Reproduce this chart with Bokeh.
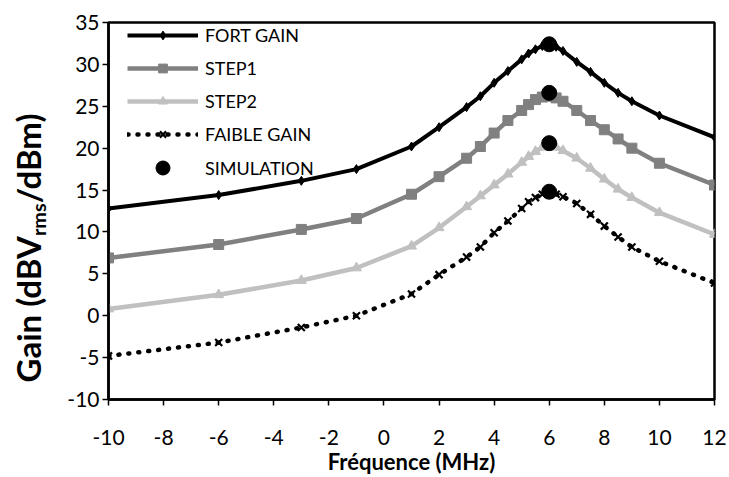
from bokeh.plotting import figure
from bokeh.models import Legend, LegendItem, FixedTicker, Range1d, Div
from bokeh.layouts import row
from bokeh.embed import file_html
from bokeh.resources import INLINE

# ---- data ----
freq = [-10, -6, -3, -1, 1, 2, 3, 3.5, 4, 4.5, 5, 5.25, 5.5, 5.75, 6, 6.25, 6.5, 7, 7.5, 8, 8.5, 9, 10, 12]
fort_gain = [12.8, 14.4, 16.1, 17.5, 20.2, 22.5, 24.9, 26.2, 27.8, 29.2, 30.6, 31.3, 31.8, 32.2, 32.3, 32.1, 31.6, 30.3, 29.1, 27.8, 26.6, 25.6, 23.9, 21.3]
step1 = [6.9, 8.5, 10.3, 11.6, 14.5, 16.6, 18.8, 20.2, 21.8, 23.3, 24.5, 25.2, 25.8, 26.1, 26.2, 26.0, 25.6, 24.5, 23.3, 22.2, 21.1, 20.0, 18.2, 15.6]
step2 = [0.8, 2.5, 4.2, 5.7, 8.3, 10.5, 13.0, 14.3, 15.6, 16.9, 18.3, 19.0, 19.6, 20.1, 20.3, 20.1, 19.7, 18.8, 17.6, 16.3, 15.1, 14.1, 12.3, 9.7]
faible_gain = [-4.8, -3.2, -1.4, 0.0, 2.6, 4.9, 7.0, 8.2, 9.9, 11.3, 12.8, 13.6, 14.1, 14.5, 14.7, 14.5, 14.2, 13.4, 12.1, 10.7, 9.4, 8.2, 6.5, 3.9]
sim_freq = [6, 6, 6, 6]
sim_gain = [32.4, 26.6, 20.6, 14.8]
x_ticks = [-10, -8, -6, -4, -2, 0, 2, 4, 6, 8, 10, 12]
y_ticks = [-10, -5, 0, 5, 10, 15, 20, 25, 30, 35]
series_labels = ["FORT GAIN", "STEP1", "STEP2", "FAIBLE GAIN", "SIMULATION"]
x_title = "Fréquence (MHz)"
y_title_html = 'Gain (dBV<sub style="font-size:0.6em; vertical-align:-0.25em;">rms</sub>/dBm)'

FONT = "Lato"
DIV_W = 60

p = figure(width=729 - DIV_W, height=477, output_backend="svg", toolbar_location=None,
           x_range=Range1d(-10, 12), y_range=Range1d(-10, 35),
           min_border_left=108 - DIV_W, min_border_right=15, min_border_top=22, min_border_bottom=77,
           margin=0)
p.xgrid.visible = False
p.ygrid.visible = False
p.outline_line_color = "black"
p.outline_line_width = 2.5
p.background_fill_color = "white"
p.border_fill_color = "white"

for ax in (p.xaxis[0], p.yaxis[0]):
    ax.axis_line_color = "black"
    ax.axis_line_width = 2.5
    ax.major_tick_line_color = "black"
    ax.major_tick_line_width = 1.5
    ax.major_tick_out = 6
    ax.major_tick_in = 0
    ax.minor_tick_line_color = None
    ax.major_label_text_font = FONT
    ax.major_label_text_font_size = "21px"
    ax.major_label_text_color = "black"

p.xaxis.ticker = FixedTicker(ticks=x_ticks)
p.yaxis.ticker = FixedTicker(ticks=y_ticks)
p.xaxis.major_label_overrides = {t: str(t) for t in x_ticks}
p.yaxis.major_label_overrides = {t: str(t) for t in y_ticks}
p.xaxis.major_label_standoff = 24
p.yaxis.major_label_standoff = 3
p.xaxis.axis_label = x_title
p.xaxis.axis_label_text_font = FONT
p.xaxis.axis_label_text_font_style = "bold"
p.xaxis.axis_label_text_font_size = "22px"
p.xaxis.axis_label_text_color = "black"
p.xaxis.axis_label_standoff = 0

# ---- series ----
r_fort_l = p.line(freq, fort_gain, line_color="black", line_width=4)
r_fort_m = p.scatter(freq, fort_gain, marker="diamond", size=9, fill_color="black", line_color="black")
r_s1_l = p.line(freq, step1, line_color="#808080", line_width=4.5)
r_s1_m = p.scatter(freq, step1, marker="square", size=10, fill_color="#808080", line_color="#808080")
r_s2_l = p.line(freq, step2, line_color="#C0C0C0", line_width=4.5)
r_s2_m = p.scatter(freq, step2, marker="triangle", size=10, fill_color="#C0C0C0", line_color="#C0C0C0")
r_fa_l = p.line(freq, faible_gain, line_color="black", line_width=4.5, line_dash="1 9", line_cap="round")
r_fa_m = p.scatter(freq, faible_gain, marker="x", size=10, line_color="black", line_width=2.2)
r_sim = p.scatter(sim_freq, sim_gain, marker="circle", size=15, fill_color="black", line_color="black")


def style_legend(lg, gh):
    lg.border_line_alpha = 0
    lg.background_fill_alpha = 0
    lg.padding = 0
    lg.margin = 0
    lg.glyph_width = 71
    lg.glyph_height = gh
    lg.label_height = 22
    lg.label_standoff = 7
    lg.label_text_font = FONT
    lg.label_text_font_size = "18px"
    lg.label_text_color = "black"


legend1 = Legend(items=[
    LegendItem(label=series_labels[0], renderers=[r_fort_l, r_fort_m]),
    LegendItem(label=series_labels[1], renderers=[r_s1_l, r_s1_m]),
    LegendItem(label=series_labels[2], renderers=[r_s2_l, r_s2_m]),
    LegendItem(label=series_labels[3], renderers=[r_fa_l, r_fa_m]),
], location=(19, 254))
style_legend(legend1, 22)
legend1.spacing = 11
p.add_layout(legend1)

legend2 = Legend(items=[LegendItem(label=series_labels[4], renderers=[r_sim])], location=(19, 214))
style_legend(legend2, 35)
p.add_layout(legend2)

ytitle = Div(width=DIV_W, height=477, margin=0, text=(
    '<div style="position:absolute; left:30px; top:248px; '
    'transform: translate(-50%, -50%) rotate(-90deg); white-space:nowrap; '
    f'font-family:{FONT}; font-weight:bold; font-size:33px; color:black; line-height:1.2;">'
    f'{y_title_html}</div>'))

layout = row(ytitle, p)
open("out.html", "w").write(file_html(layout, INLINE))
